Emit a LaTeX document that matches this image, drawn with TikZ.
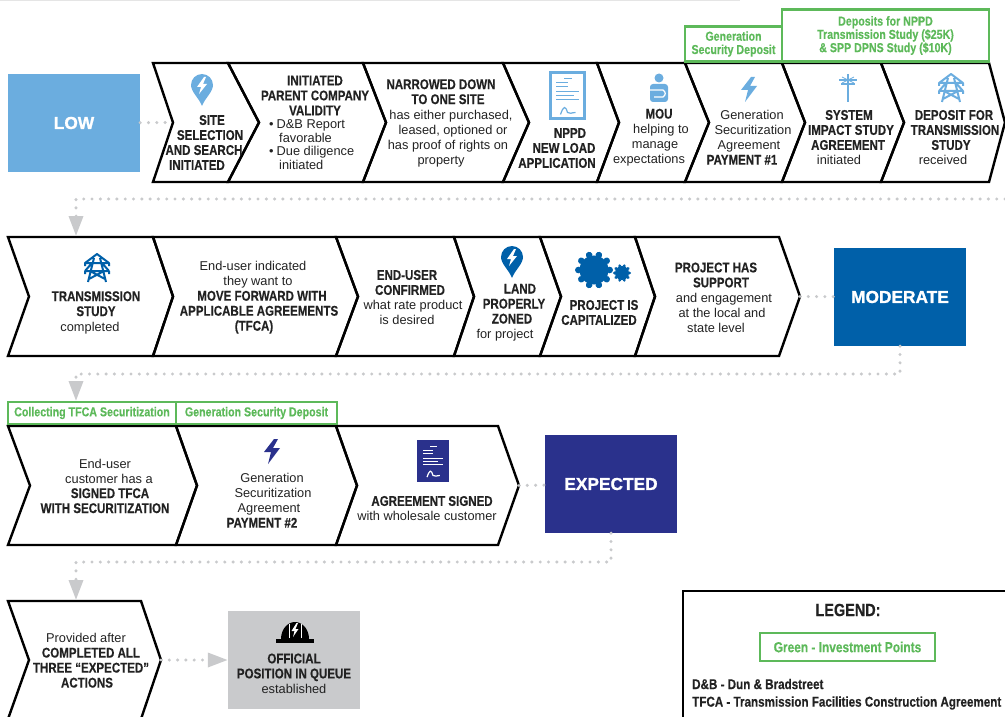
\documentclass[tikz,border=0pt]{standalone}
\usepackage{fontspec}
\setmainfont{Liberation Sans}[BoldFeatures={FakeStretch=.82,Scale=1.1,FakeBold=.4}]
\newfontfamily\stagefont{Liberation Sans Bold}[FakeBold=1.2]
\usetikzlibrary{arrows.meta}

\definecolor{lowblue}{HTML}{6BADDF}
\definecolor{midblue}{HTML}{0060A9}
\definecolor{navy}{HTML}{2A318C}
\definecolor{invest}{HTML}{5DB95A}
\definecolor{dotgrey}{HTML}{C9CACC}
\definecolor{inktext}{HTML}{222222}

\newcommand{\rr}[1]{\hspace*{#1pt}}
% name, left, notch, right, tip -- top and bottom come from \chevtop, \chevbot
\newcommand{\chevron}[5]{%
  \draw [chevline] (#2,\chevtop) -- (#4,\chevtop) -- (#5,\chevtop/2+\chevbot/2)
    -- (#4,\chevbot) -- (#2,\chevbot) -- (#3,\chevtop/2+\chevbot/2) -- cycle;
  \coordinate (#1in)  at (#3,\chevtop/2+\chevbot/2);
  \coordinate (#1out) at (#5,\chevtop/2+\chevbot/2);
}

\tikzset{
  chevline/.style={line width=2.4pt,line join=miter},
  txt/.style={align=center,inner sep=0pt,text=inktext,font=\fontsize{12.8}{15}\selectfont},
  bulleted/.style={txt,align=left,font=\fontsize{12.8}{13.5}\selectfont},
  stage/.style={minimum width=132pt,minimum height=98pt,inner sep=0pt,text=white,
    font=\stagefont\fontsize{17.3}{20}\selectfont},
  invest box/.style={draw=invest,line width=2.8pt,inner sep=0pt,align=center,text=invest,
    font=\bfseries\fontsize{11.8}{13.3}\selectfont},
  dotline/.style={dotgrey,line width=3.4pt,line cap=round,dash pattern=on 0pt off 8.3pt},
  dotarrow/.style={dotline,-{Triangle[length=20pt,width=14pt,fill=dotgrey]}},
  pics/bolt/.style={code={
    \fill [#1] (2,-12) -- (-8,1) -- (-1,1) -- (-4,13) -- (8,-3) -- (1,-3) -- (6,-12) -- cycle;}},
  pics/pin/.style={code={
    \fill [#1] (0,16) .. controls (-3,8) and (-11,2) .. (-11,-5)
      arc [start angle=180,end angle=360,radius=11] .. controls (11,2) and (3,8) .. (0,16) -- cycle;
    \fill [white] (2,-13) -- (-5,-3) -- (-1,-3) -- (-3,4) -- (5,-6) -- (1,-6) -- (4,-13) -- cycle;}},
  pics/tower/.style={code={
    \draw [#1,line width=2pt,line join=round]
      (0,-14) -- (-12,-5) -- (12,-5) -- cycle
      (-12,-5) -- (-12,-2) (12,-5) -- (12,-2)
      (-12,3) -- (12,3) (-12,3) -- (-5,-5) (12,3) -- (5,-5)
      (-12,3) -- (-12,6) (12,3) -- (12,6)
      (-3,-10) -- (-9,14) (3,-10) -- (9,14)
      (-7,3) -- (8,11) (7,3) -- (-8,11);}},
  pics/pole/.style={code={
    \draw [#1,line width=2pt] (0,-14) -- (0,14)
      (-9,-8) -- (9,-8) (-7,-4) -- (7,-4);
    \draw [#1,line width=.7pt] (-6,-11) -- (6,-5) (6,-11) -- (-6,-5);}},
  pics/person/.style={code={
    \fill [#1] (0,-10) circle (4.5);
    \fill [#1,rounded corners=3pt] (-9,-4) rectangle (9,14);
    \draw [white,line width=1.2pt] (-9,2) -- (4,2) .. controls (7,4) and (7,7) .. (4,9) -- (-5,9);}},
  pics/docsheet/.style n args={3}{code={
    \fill [#1] (-18.5,-24.5) rectangle (18.5,24.5);
    \fill [#2] (-15.5,-21.5) rectangle (15.5,21.5);
    \draw [#3,line width=1pt] (-3.5,-16.5) -- (4.5,-16.5)
      (-11.5,-12.5) -- (.5,-12.5) (-11.5,-8.5) -- (.5,-8.5)
      (-11.5,-3.5) -- (11.5,-3.5) (-11.5,.5) -- (6,.5) (-11.5,4.5) -- (11.5,4.5);
    \draw [#3,line width=1.2pt] (-7,19) .. controls (-4,10) and (-2,10) .. (0,17)
      .. controls (2,19) and (4,17) .. (8,17);}},
  pics/gear/.style={code={
    \fill [#1] (0,0) circle (.88);
    \foreach \a in {0,36,...,324}
      \fill [#1,rotate=\a] (.95,0) circle (.2);}},
  pics/hardhat/.style={code={
    \fill [#1] (-14,7) arc [start angle=180,end angle=360,x radius=14,y radius=17] -- cycle;
    \fill [#1] (-19,7) rectangle (19,11);
    \draw [white,line width=.9pt] (-6,6) -- (-6,-8) (6,6) -- (6,-8);
    \fill [white] (1.5,-9) -- (-3.5,-1) -- (-.5,-1) -- (-2,5) -- (3.5,-3) -- (.5,-3) -- (3,-9) -- cycle;}},
}

\begin{document}
\begin{tikzpicture}[x=1pt,y=-1pt]
\clip (0,0) rectangle (1005,717);
\useasboundingbox (0,0) rectangle (1005,717);
\fill [black!10] (0,0) rectangle (740,1.5);

% stages
\node [stage,fill=lowblue]  (low)      at (74,123)   {LOW};
\node [stage,fill=midblue]  (moderate) at (900,297)  {MODERATE};
\node [stage,fill=navy]     (expected) at (611,484)  {EXPECTED};
\node [stage,fill=dotgrey,text=inktext,font=\fontsize{12.5}{15}\selectfont]
      (queue) at (294,660) {};

% first row
\def\chevtop{63}\def\chevbot{182}
\chevron{site}{153}{173}{228}{259}
\chevron{parent}{228}{259}{363}{386}
\chevron{narrowed}{363}{386}{503}{529}
\chevron{loadapp}{503}{529}{597}{619}
\chevron{mou}{597}{619}{685}{709}
\chevron{payone}{685}{709}{782}{805}
\chevron{impact}{782}{805}{881}{904}
\chevron{deposit}{881}{904}{989}{1005}

\pic at (202,90) {pin=lowblue};
\pic at (567.5,95.5) {docsheet={lowblue}{white}{lowblue}};
\pic at (659,88) {person=lowblue};
\pic at (749,89) {bolt=lowblue};
\pic at (848,88) {pole=lowblue};
\pic at (951,88) {tower=lowblue};

\node [txt] (sitetxt) at (204,142.5)
  {\bfseries\rr{16}SITE\\ \bfseries\rr{12}SELECTION\\ \bfseries AND SEARCH\rr{2}\\ \bfseries INITIATED\rr{14}};
\node [txt] (parenttxt) at (315,95.5)
  {\bfseries INITIATED\\ \bfseries PARENT COMPANY\\ \bfseries VALIDITY};
\node [bulleted,anchor=north west] (parentlist) at (269,119.5)
  {\textbullet\rr{3}D\&B Report\\ \rr{10}favorable\\ \textbullet\rr{3}Due diligence\\ \rr{10}initiated};
\node [txt] (narrowedtxt) at (448,123)
  {\bfseries NARROWED DOWN\rr{14}\\ \bfseries TO ONE SITE\rr{4}\\ \rr{6}has either purchased,\\
   \rr{10}leased, optioned or\\ has proof of rights on\\ property\rr{14}};
\node [txt] (loadapptxt) at (562,148)
  {\bfseries\rr{16}NPPD\\ \bfseries\rr{4}NEW LOAD\\ \bfseries APPLICATION\rr{10}};
\node [txt] (moutxt) at (655,137.5)
  {\rr{8}{\bfseries MOU}\\ \rr{12}helping to\\ manage\\ expectations\rr{12}};
\node [txt] (payonetxt) at (749,137.5)
  {\rr{6}Generation\\ \rr{8}Securitization\\ Agreement\\ {\bfseries PAYMENT \#1}\rr{14}};
\node [txt] (impacttxt) at (848,137.5)
  {\bfseries\rr{2}SYSTEM\\ \bfseries\rr{6}IMPACT STUDY\\ \bfseries AGREEMENT\rr{6}\\ initiated\rr{18}};
\node [txt] (deposittxt) at (951,137.5)
  {\bfseries\rr{6}DEPOSIT FOR\\ \bfseries\rr{8}TRANSMISSION\\ \bfseries STUDY\rr{4}\\ received\rr{16}};

\node [invest box,minimum width=97pt,minimum height=35pt] (gendep) at (733.5,44)
  {Generation\\ Security Deposit};
\node [invest box,minimum width=207pt,minimum height=52pt] (studydep) at (885.5,35.5)
  {Deposits for NPPD\\ Transmission Study (\$25K)\\ \& SPP DPNS Study (\$10K)};

% second row
\def\chevtop{237}\def\chevbot{356}
\chevron{study}{8}{29}{153}{173}
\chevron{forward}{153}{173}{336}{358}
\chevron{confirmed}{336}{358}{454}{474}
\chevron{zoned}{454}{474}{540}{561}
\chevron{capital}{540}{561}{635}{655}
\chevron{support}{635}{655}{779}{800}

\pic at (97,268) {tower=midblue};
\pic at (512,262) {pin=midblue};
\pic [scale=16.5] at (594,270) {gear=midblue};
\pic [scale=8] at (622,273) {gear=midblue};

\node [txt] (studytxt) at (96,312.5)
  {\bfseries TRANSMISSION\\ \bfseries STUDY\\ completed\rr{12}};
\node [txt] (forwardtxt) at (257,297.5)
  {End-user indicated\rr{8}\\ \rr{2}they want to\\ \rr{10}{\bfseries MOVE FORWARD WITH}\\
   \rr{4}{\bfseries APPLICABLE AGREEMENTS}\\ {\bfseries (TFCA)}\rr{6}};
\node [txt] (confirmedtxt) at (410,297.5)
  {\bfseries END-USER\rr{6}\\ \bfseries CONFIRMED\\ \rr{6}what rate product\\ is desired\rr{6}};
\node [txt] (zonedtxt) at (512,312.5)
  {\bfseries\rr{16}LAND\\ \bfseries\rr{4}PROPERLY\\ \bfseries ZONED\rr{8}\\ for project\rr{14}};
\node [txt] (capitaltxt) at (601,312.5)
  {\bfseries\rr{6}PROJECT IS\\ \bfseries CAPITALIZED\rr{4}};
\node [txt] (supporttxt) at (720,297.5)
  {\bfseries PROJECT HAS\rr{8}\\ \bfseries\rr{2}SUPPORT\\ \rr{8}and engagement\\ \rr{4}at the local and\\ state level\rr{8}};

% third row
\def\chevtop{426}\def\chevbot{545}
\chevron{signed}{8}{30}{176}{197}
\chevron{paytwo}{176}{197}{336}{357}
\chevron{wholesale}{336}{357}{498}{519}

\pic at (272,451) {bolt=navy};
\pic [scale=.85] at (433,461) {docsheet={navy}{navy}{white}};

\node [txt] (signedtxt) at (107,486)
  {End-user\rr{4}\\ \rr{4}customer has a\\ \bfseries\rr{6}SIGNED TFCA\\ \bfseries WITH SECURITIZATION\rr{4}};
\node [txt] (paytwotxt) at (268,500.5)
  {\rr{8}Generation\\ \rr{10}Securitization\\ \rr{2}Agreement\\ {\bfseries PAYMENT \#2}\rr{12}};
\node [txt] (wholesaletxt) at (430,508.5)
  {\bfseries\rr{4}AGREEMENT SIGNED\\ with wholesale customer\rr{6}};

\node [invest box,minimum width=168pt,minimum height=22pt] (tfcadep) at (92,413)
  {Collecting TFCA Securitization};
\node [invest box,minimum width=161pt,minimum height=22pt] (secdep) at (256.5,413)
  {Generation Security Deposit};

% last row
\def\chevtop{601}\def\chevbot{719}
\chevron{actions}{8}{29}{141}{161}

\pic at (295,632) {hardhat=black};

\node [txt] (actionstxt) at (89,660.5)
  {Provided after\rr{6}\\ \bfseries\rr{4}COMPLETED ALL\\ \bfseries\rr{4}THREE ``EXPECTED''\\ \bfseries ACTIONS\rr{4}};
\node [txt] (queuetxt) at (294,673.5)
  {\bfseries OFFICIAL\\ \bfseries POSITION IN QUEUE\\ established};

% legend
\coordinate (legendcorner) at (683,591);
\draw [line width=2.2pt] (683,720) -- (legendcorner) -- (1008,591);
\node [txt,font=\bfseries\fontsize{16}{18}\selectfont] (legend) at (848,610) {LEGEND:};
\node [invest box,font=\bfseries\fontsize{13.2}{15}\selectfont,minimum width=175pt,minimum height=28pt] (greenkey) at (847.5,647)
  {Green - Investment Points};
\node [txt,anchor=west,font=\bfseries\fontsize{12.9}{15}\selectfont] (dnbkey) at (692,684)
  {D\&B - Dun \& Bradstreet};
\node [txt,anchor=west,font=\bfseries\fontsize{12.9}{15}\selectfont] (tfcakey) at (692,703)
  {TFCA - Transmission Facilities Construction Agreement};

% connectors
\coordinate (wrapone)   at (1005,199);
\coordinate (rowtwotop) at (76,236);
\coordinate (wraptwo)   at (76,374);
\coordinate (rowthreetop) at (76,401);
\coordinate (wrapthree) at (76,562);
\coordinate (rowfourtop) at (76,600);

\draw [dotline] (low) -- (sitein);
\draw [dotarrow] (wrapone) -| (rowtwotop);
\draw [dotline] (supportout) -- (moderate);
\draw [dotarrow] (moderate.south) |- (wraptwo) -- (rowthreetop);
\draw [dotline] (wholesaleout) -- (expected);
\draw [dotarrow] (expected.south) |- (wrapthree) -- (rowfourtop);
\draw [dotarrow] (actionsout) -- (queue);
\end{tikzpicture}
\end{document}
